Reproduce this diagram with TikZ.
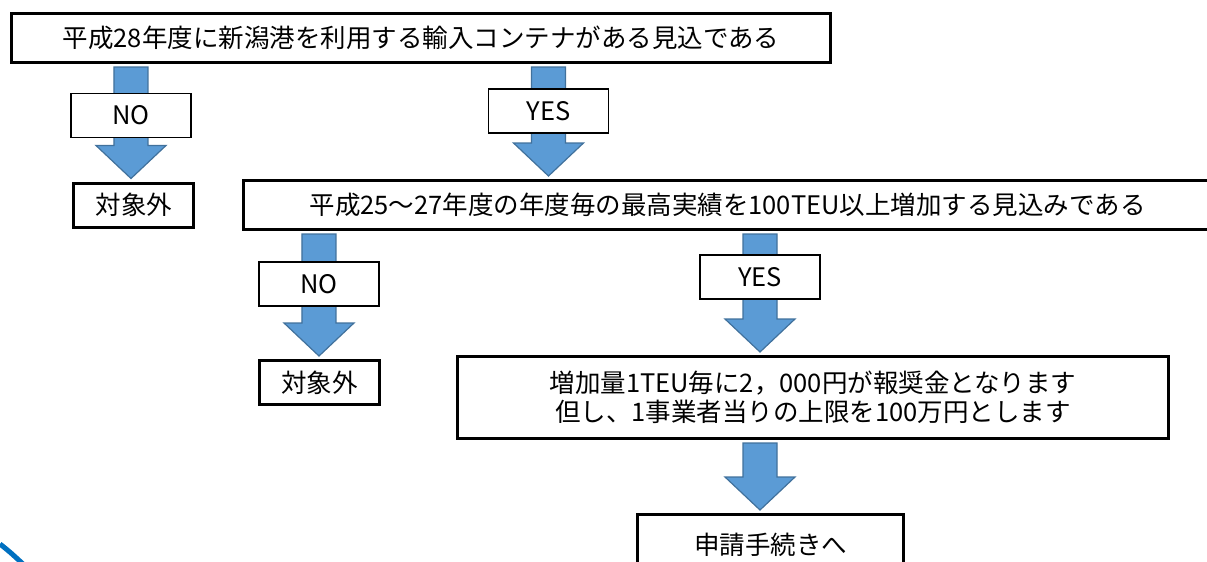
\documentclass[tikz,border=0pt]{standalone}
\usepackage{fontspec}
\setmainfont{Noto Sans CJK JP}
\usetikzlibrary{positioning,calc,backgrounds}

\definecolor{arrowblue}{HTML}{5B9BD5}
\definecolor{arrowedge}{HTML}{41719C}
\definecolor{swooshblue}{HTML}{0070C0}

% block arrow: from #1 to #3, lined up under #2
\newcommand{\bigarrow}[3]{%
  \filldraw[bigarrow] ($(#1.south -| #2)+(-17,-3)$) -- ($(#3.north -| #2)+(-17,36)$)
    -- ($(#3.north -| #2)+(-35,36)$) -- ($(#3.north -| #2)+(0,3)$)
    -- ($(#3.north -| #2)+(35,36)$) -- ($(#3.north -| #2)+(17,36)$)
    -- ($(#1.south -| #2)+(17,-3)$) -- cycle;}

\begin{document}
\begin{tikzpicture}[x=1pt, y=1pt, font=\fontsize{25.5}{29}\selectfont]
        \tikzstyle{box} = [draw, line width=3pt, rectangle, inner sep=0pt, minimum height=49pt];
        \tikzstyle{outbox} = [box, minimum height=44pt, minimum width=120pt];
        \tikzstyle{answer} = [draw, line width=1.5pt, rectangle, fill=white, inner sep=0pt, minimum height=44pt, minimum width=120pt];
        \tikzstyle{bigarrow} = [fill=arrowblue, draw=arrowedge, line width=1.2pt, line join=miter];

        \useasboundingbox (-421,38) rectangle (786,-524);
        \clip (-421,38) rectangle (786,-524);

        \node(ask1)[box, minimum width=819pt]{平成28年度に新潟港を利用する輸入コンテナがある見込である};
        \node(no1)[answer, below of=ask1, node distance=77.5pt, xshift=-290pt]{NO};
        \node(yes1)[answer, below of=ask1, node distance=73pt, xshift=127.5pt]{YES};
        \node(out1)[outbox, below of=no1, node distance=89.5pt, xshift=3pt]{対象外};
        \node(ask2)[box, minimum width=967pt, below of=ask1, node distance=167pt, xshift=306.5pt]{平成25～27年度の年度毎の最高実績を100TEU以上増加する見込みである};

        \node(no2)[answer, below of=ask2, node distance=79pt, xshift=-408.5pt]{NO};
        \node(yes2)[answer, below of=ask2, node distance=72pt, xshift=32.5pt]{YES};
        \node(out2)[outbox, below of=no2, node distance=98.5pt, xshift=0.5pt]{対象外};
        \node(reward)[box, minimum width=711pt, minimum height=82pt, align=center, below of=ask2, node distance=192.5pt, xshift=85.5pt]{増加量1TEU毎に2，000円が報奨金となります\\但し、1事業者当りの上限を100万円とします};
        \node(apply)[box, minimum width=266pt, minimum height=60pt, below of=reward, node distance=147pt, xshift=-42.5pt]{申請手続きへ};

        \begin{scope}[on background layer]
            \bigarrow{ask1}{no1}{out1}
            \bigarrow{ask1}{yes1}{ask2}
            \bigarrow{ask2}{no2}{out2}
            \bigarrow{ask2}{yes2}{reward}
            \bigarrow{reward}{yes2}{apply}
        \end{scope}

        \draw[line width=5pt, swooshblue] (-421,-506) .. controls (-411,-514) .. (-398,-526);
    \end{tikzpicture}
\end{document}
